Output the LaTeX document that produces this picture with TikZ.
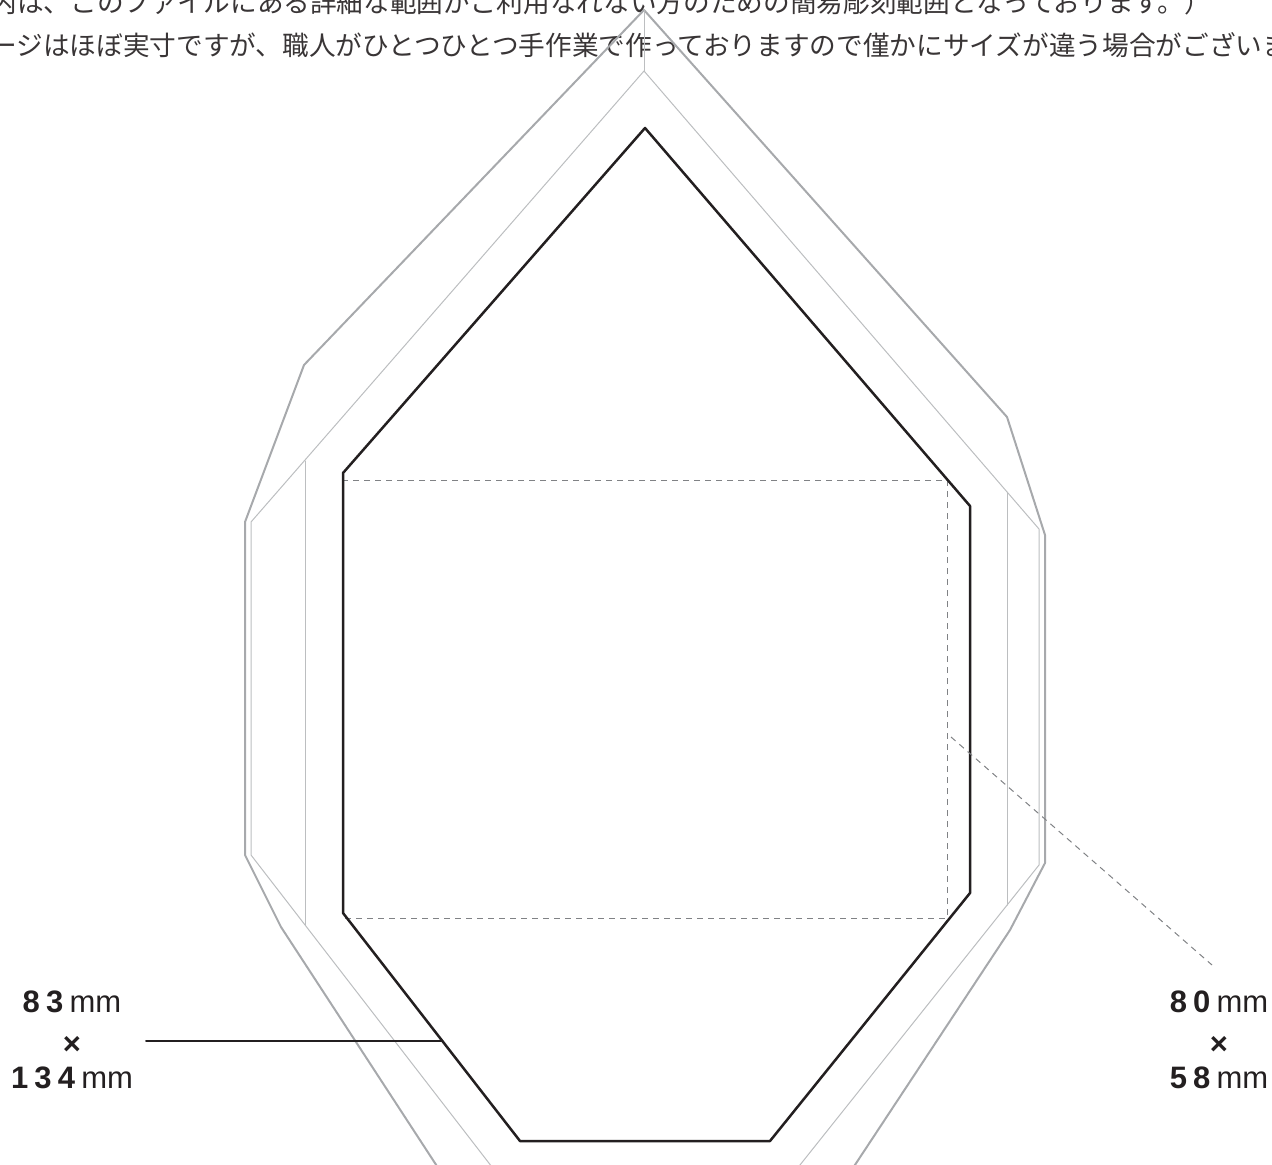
\documentclass[tikz,border=0pt]{standalone}
\usepackage{fontspec}
\setmainfont{Liberation Sans}
\newfontfamily\jpfont{Noto Sans CJK JP}
\usepackage{tikz}
\usetikzlibrary{positioning}
\definecolor{inkblack}{HTML}{231F20}
\definecolor{rimgray}{HTML}{A7A9AC}
\definecolor{offsetgray}{HTML}{BCBEC0}
\definecolor{boxgray}{HTML}{808285}
\newcommand{\dgap}{\kern0.2em}

\begin{document}
\begin{tikzpicture}[line cap=round,line join=round,x=0.5pt,y=-0.5pt,
  rimline/.style={draw=rimgray,line width=1pt},
  offsetline/.style={draw=offsetgray,line width=0.5pt},
  cutline/.style={draw=inkblack,line width=1.25pt},
  boxline/.style={draw=boxgray,line width=0.5pt,line cap=butt,dash pattern=on 3pt off 2.5pt},
  notetext/.style={anchor=base west,inner sep=0pt,text=inkblack!90,font=\jpfont\fontsize{13.33}{16}\selectfont},
  sizetext/.style={anchor=base,inner sep=0pt,text=inkblack,font=\fontsize{15.5}{19}\selectfont}]
\useasboundingbox (0,0) rectangle (1272,1165);
\clip (0,0) rectangle (1272,1165);
% notes
\node[notetext] (noteA) at (-10,13) {内は、このファイルにある詳細な範囲がご利用なれない方のための簡易彫刻範囲となっております。）};
\node[notetext] (noteB) at (-10,56) {ージはほぼ実寸ですが、職人がひとつひとつ手作業で作っておりますので僅かにサイズが違う場合がございま};
% outlines
\draw [rimline] (446,1180) -- (281,927) -- (245,855) -- (245,522) -- (304,365) -- (644,10) -- (1007,417) -- (1045,535) -- (1045,863) -- (1010,930) -- (845,1180);
\draw [offsetline] (644,10) -- (644,71);
\draw [offsetline] (502,1180) -- (251,855) -- (251,522) -- (644,71) -- (1039,529) -- (1039,865) -- (788,1180);
\draw [offsetline] (305,461) -- (305,925);
\draw [offsetline] (1007,493) -- (1007,905);
\draw [boxline] (343,480) rectangle (947,918);
\draw [cutline] (645,128) -- (970,506) -- (970,893) -- (770,1141) -- (520,1141) -- (343,913) -- (343,473) -- cycle;
% sizes
\node[sizetext] (sizeAw) at (72,1012) {\textbf{8\dgap3}\dgap mm};
\node[sizetext] (sizeAx) at ([yshift=-21pt]sizeAw.base) {\textbf{×}};
\node[sizetext] (sizeAh) at ([yshift=-38pt]sizeAw.base) {\textbf{1\dgap3\dgap4}\dgap mm};
\node[sizetext] (sizeBw) at (1219,1012) {\textbf{8\dgap0}\dgap mm};
\node[sizetext] (sizeBx) at ([yshift=-21pt]sizeBw.base) {\textbf{×}};
\node[sizetext] (sizeBh) at ([yshift=-38pt]sizeBw.base) {\textbf{5\dgap8}\dgap mm};
% leaders
\coordinate (leadA) at (146,1041);
\coordinate (edgeA) at (442,1041);
\draw [cutline, line width=1pt] (leadA) -- (edgeA);
\coordinate (boxB) at (951,737);
\coordinate (leadB) at (1212,965);
\draw [boxline] (boxB) -- (leadB);
\end{tikzpicture}
\end{document}
